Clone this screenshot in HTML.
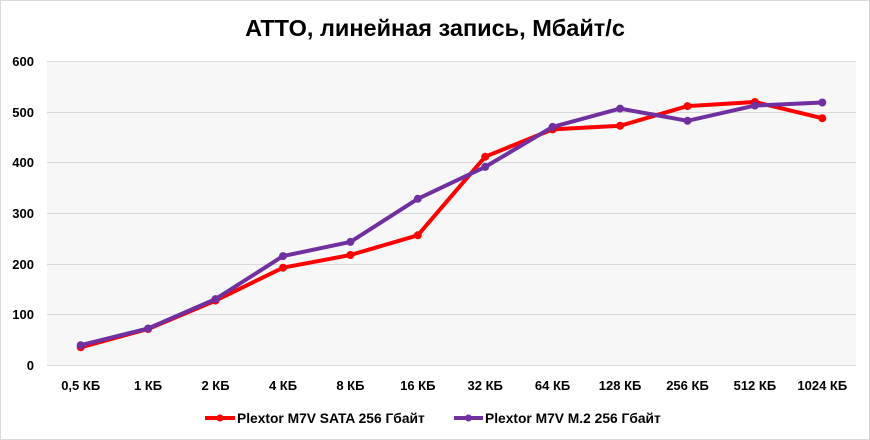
<!DOCTYPE html>
<html><head><meta charset="utf-8"><style>
html,body{margin:0;padding:0;background:#fff;}
svg{display:block;font-family:"Liberation Sans","DejaVu Sans",sans-serif;}
</style></head><body>
<svg width="870" height="440" viewBox="0 0 870 440">
<rect x="0.5" y="0.5" width="869" height="439" fill="#fff" stroke="#d9d9d9"/>
<text x="435" y="36" text-anchor="middle" font-size="23.5" font-weight="bold" fill="#000">ATTO, линейная запись, Мбайт/с</text>
<rect x="47" y="61" width="809" height="304" fill="#f7f7f7"/>
<g stroke="#d9d9d9" stroke-width="1">
<line x1="47" x2="856" y1="61.5" y2="61.5"/>
<line x1="47" x2="856" y1="112.5" y2="112.5"/>
<line x1="47" x2="856" y1="162.5" y2="162.5"/>
<line x1="47" x2="856" y1="213.5" y2="213.5"/>
<line x1="47" x2="856" y1="264.5" y2="264.5"/>
<line x1="47" x2="856" y1="314.5" y2="314.5"/>
<line x1="47" x2="856" y1="365.5" y2="365.5"/>
</g>
<g font-size="13" font-weight="bold" text-anchor="end" fill="#000">
<text x="34" y="66">600</text><text x="34" y="117">500</text><text x="34" y="167">400</text>
<text x="34" y="218">300</text><text x="34" y="269">200</text><text x="34" y="319">100</text><text x="34" y="370">0</text>
</g>
<g font-size="13" font-weight="bold" text-anchor="middle" fill="#000">
<text x="80.7" y="390">0,5 КБ</text><text x="148.1" y="390">1 КБ</text><text x="215.5" y="390">2 КБ</text>
<text x="283" y="390">4 КБ</text><text x="350.4" y="390">8 КБ</text><text x="417.8" y="390">16 КБ</text>
<text x="485.2" y="390">32 КБ</text><text x="552.6" y="390">64 КБ</text><text x="620.1" y="390">128 КБ</text>
<text x="687.5" y="390">256 КБ</text><text x="754.9" y="390">512 КБ</text><text x="822.3" y="390">1024 КБ</text>
</g>
<g fill="none" stroke="#ff0000" stroke-width="4" stroke-linejoin="round">
<polyline points="80.7,347.3 148.1,329 215.5,300.6 283,267.7 350.4,255 417.8,235.3 485.2,156.7 552.6,129.4 620.1,125.8 687.5,106.1 754.9,102 822.3,118.2"/>
</g>
<g fill="#ff0000" stroke="#ff0000">
<circle cx="80.7" cy="347.3" r="3.5"/><circle cx="148.1" cy="329" r="3.5"/><circle cx="215.5" cy="300.6" r="3.5"/><circle cx="283" cy="267.7" r="3.5"/><circle cx="350.4" cy="255" r="3.5"/><circle cx="417.8" cy="235.3" r="3.5"/><circle cx="485.2" cy="156.7" r="3.5"/><circle cx="552.6" cy="129.4" r="3.5"/><circle cx="620.1" cy="125.8" r="3.5"/><circle cx="687.5" cy="106.1" r="3.5"/><circle cx="754.9" cy="102" r="3.5"/><circle cx="822.3" cy="118.2" r="3.5"/>
</g>
<g fill="none" stroke="#7030a0" stroke-width="4" stroke-linejoin="round">
<polyline points="80.7,345.2 148.1,328.5 215.5,299.1 283,256.1 350.4,241.9 417.8,198.8 485.2,166.9 552.6,126.9 620.1,108.6 687.5,120.8 754.9,105.6 822.3,102.5"/>
</g>
<g fill="#7030a0" stroke="#7030a0">
<circle cx="80.7" cy="345.2" r="3.5"/><circle cx="148.1" cy="328.5" r="3.5"/><circle cx="215.5" cy="299.1" r="3.5"/><circle cx="283" cy="256.1" r="3.5"/><circle cx="350.4" cy="241.9" r="3.5"/><circle cx="417.8" cy="198.8" r="3.5"/><circle cx="485.2" cy="166.9" r="3.5"/><circle cx="552.6" cy="126.9" r="3.5"/><circle cx="620.1" cy="108.6" r="3.5"/><circle cx="687.5" cy="120.8" r="3.5"/><circle cx="754.9" cy="105.6" r="3.5"/><circle cx="822.3" cy="102.5" r="3.5"/>
</g>
<line x1="205" x2="235" y1="418" y2="418" stroke="#ff0000" stroke-width="4"/>
<circle cx="220" cy="418" r="3.5" fill="#ff0000"/>
<text x="237" y="423" font-size="13.8" font-weight="bold" fill="#000">Plextor M7V SATA 256 Гбайт</text>
<line x1="454" x2="483" y1="418" y2="418" stroke="#7030a0" stroke-width="4"/>
<circle cx="468.5" cy="418" r="3.5" fill="#7030a0"/>
<text x="485" y="423" font-size="13.8" font-weight="bold" fill="#000">Plextor M7V M.2 256 Гбайт</text>
</svg>
</body></html>
